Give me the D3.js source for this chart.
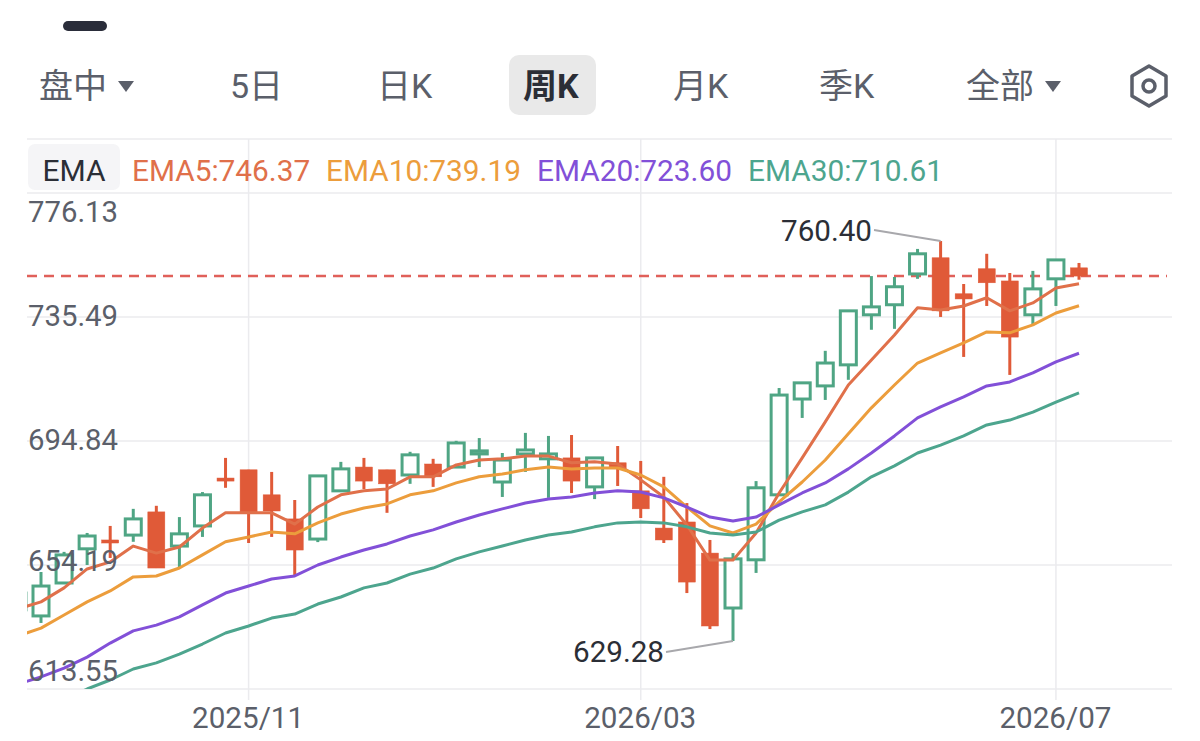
<!DOCTYPE html>
<html>
<head>
<meta charset="utf-8">
<style>
html,body{margin:0;padding:0;background:#fff;overflow:hidden}
text{font-family:Roboto,"Noto Sans CJK SC",sans-serif}
</style>
<script src="https://cdn.jsdelivr.net/npm/d3@7/dist/d3.min.js"></script>
</head>
<body>
<svg id="chart" width="1200" height="741"></svg>
<script>
// Weekly bars, oldest first; the first bar sits just off the left edge of the plot.
const openPrice = [639.5,637.5,648.3,659.5,662.4,664.0,671.6,660.4,667.0,682.7,685.4,677.2,669.3,662.7,678.5,686.3,685.4,683.7,687.3,686.3,690.6,681.4,690.6,689.0,689.3,679.8,687.7,678.5,666.3,668.3,658.1,640.1,655.9,677.2,708.6,712.9,719.8,736.2,739.5,749.6,754.9,743.1,751.3,747.3,736.2,748.0,751.6];
const closePrice = [645.0,647.3,657.5,663.7,661.4,669.3,653.2,664.4,677.2,681.7,671.6,671.9,659.1,683.4,685.7,681.7,680.8,690.3,683.1,694.2,691.6,688.6,691.9,690.6,681.7,689.3,686.0,672.6,662.4,648.6,634.2,656.2,679.5,709.9,713.9,720.4,737.5,738.8,745.4,756.2,737.5,741.4,746.7,728.9,744.7,754.2,748.9];
const highPrice = [647.7,651.9,658.5,664.7,667.0,672.6,673.6,669.9,678.1,689.3,685.4,684.7,675.5,683.7,688.0,689.3,685.4,691.3,689.0,694.9,695.8,690.9,697.5,696.5,696.8,689.3,693.2,688.3,683.1,674.5,662.4,658.1,681.7,712.2,713.9,724.4,737.5,748.9,748.6,757.8,760.40,746.3,756.2,749.9,750.6,754.2,753.2];
const lowPrice = [637.8,635.2,648.0,654.2,656.5,661.8,653.2,653.5,663.4,679.5,661.4,663.4,650.9,661.7,678.5,679.1,671.3,680.8,679.8,686.3,686.3,676.5,684.7,676.2,677.8,675.8,680.1,669.6,661.4,645.0,633.2,629.28,651.6,677.2,702.4,708.3,714.9,731.3,731.6,748.0,735.5,722.4,739.1,716.5,732.8,739.1,747.7];

// Moving averages at each weekly close.
const ema5 = [639.8,642.1,646.7,652.9,655.2,660.4,658.1,660.1,666.3,671.3,671.3,671.3,667.6,673.2,677.2,678.5,679.1,683.1,683.1,687.0,688.6,689.0,689.9,689.9,687.7,688.0,687.3,682.1,676.5,667.3,655.8,655.8,664.7,677.8,689.3,701.1,713.2,721.4,729.6,738.5,737.8,739.1,741.8,737.5,740.1,745.0,746.37];
const ema10 = [630.9,633.5,637.8,642.1,645.7,650.3,650.6,653.2,657.5,661.8,663.4,665.0,664.4,668.0,670.9,672.9,674.2,677.2,678.5,681.1,683.1,684.0,685.4,686.3,685.7,686.0,686.0,683.7,679.8,673.2,667.0,664.7,667.6,674.9,681.4,688.6,697.2,705.7,713.2,720.4,723.7,727.0,730.6,730.3,732.9,736.8,739.19];
const ema20 = [615.2,617.5,620.4,624.0,628.6,632.6,634.5,637.2,641.1,645.0,647.3,649.6,650.6,654.2,656.8,659.1,661.1,663.7,665.7,668.3,670.6,672.6,674.5,675.8,676.5,677.8,678.5,678.1,676.2,673.2,669.9,668.6,669.9,673.9,677.8,681.1,685.7,690.9,696.5,702.4,706.0,709.3,712.9,714.2,717.2,720.8,723.60];
const ema30 = [604.0,606.6,609.9,613.55,616.5,620.1,622.1,625.0,628.3,631.9,634.2,636.8,638.1,641.4,643.7,646.7,648.3,651.2,653.2,656.2,658.5,660.4,662.4,664.0,665.0,666.7,668.0,668.3,668.0,666.7,664.7,664.0,665.0,668.9,671.6,673.9,678.1,683.1,686.7,690.9,693.5,696.5,700.1,701.7,704.3,707.6,710.61];

const priceTicks = [776.13,735.49,694.84,654.19,613.55];
const lastPrice = 748.9;
const dateTicks = [new Date(Date.UTC(2025,10,3)), new Date(Date.UTC(2026,2,2)), new Date(Date.UTC(2026,6,6))];
const tabLabels = ["盘中","5日","日K","周K","月K","季K","全部"];
const tabStarts = [39,230,377,523,673,819,966];

const emaSeries = [
  {name:"EMA5", values:ema5, color:"#e0704a", labelX:132},
  {name:"EMA10", values:ema10, color:"#ec9d3c", labelX:326},
  {name:"EMA20", values:ema20, color:"#8250d8", labelX:537},
  {name:"EMA30", values:ema30, color:"#4da58e", labelX:748}
];

const weeks = d3.utcMonday.range(new Date(Date.UTC(2025,7,25)), new Date(Date.UTC(2026,6,14)));
const bars = weeks.map((date,i)=>({date,open:openPrice[i],close:closePrice[i],high:highPrice[i],low:lowPrice[i]}));

const plot = {left:27,right:1172,top:193,bottom:689};
const x = d3.scaleUtc().domain([weeks[1],weeks[weeks.length-1]]).range([41,1079]);
const y = d3.scaleLinear().domain([613.55,776.13]).range([plot.bottom,plot.top]);

const RED="#e05a38", GREEN="#4fa584", GRID="#ebebee", TEXT="#5b5f6a", DARK="#2b2e36";
const svg = d3.select("#chart");

svg.append("defs").append("clipPath").attr("id","plot-clip").append("rect")
  .attr("x",plot.left).attr("y",plot.top).attr("width",plot.right-plot.left).attr("height",plot.bottom-plot.top);

// Header: drag handle, period tabs, settings button
svg.append("rect").attr("x",63).attr("y",21).attr("width",44).attr("height",10).attr("rx",5).attr("fill","#2a2d3a");
svg.append("rect").attr("x",509).attr("y",55).attr("width",87).attr("height",60).attr("rx",10).attr("fill","#e9e9e9");
svg.append("g").selectAll("text").data(tabLabels).join("text")
  .attr("x",(d,i)=>tabStarts[i]).attr("y",98)
  .attr("font-size",34)
  .attr("font-weight",(d,i)=>i===3?700:400)
  .attr("fill",(d,i)=>i===3?DARK:TEXT)
  .text(d=>d);
svg.append("g").selectAll("path").data([126,1053]).join("path")
  .attr("transform",d=>`translate(${d},86)`)
  .attr("d","M-8,-5L8,-5L0,6Z").attr("fill",TEXT);
svg.append("path")
  .attr("d",d3.line()([[1149,66],[1166,76],[1166,96],[1149,106],[1132,96],[1132,76]])+"Z")
  .attr("fill","none").attr("stroke",TEXT).attr("stroke-width",3.5).attr("stroke-linejoin","round");
svg.append("circle").attr("cx",1149).attr("cy",86).attr("r",6).attr("fill","none").attr("stroke",TEXT).attr("stroke-width",3.5);

// Grid
const grid = svg.append("g").attr("stroke",GRID).attr("stroke-width",1.5);
grid.selectAll("line.h").data([139,...priceTicks.map(y)]).join("line").attr("class","h")
  .attr("x1",plot.left).attr("x2",plot.right).attr("y1",d=>d).attr("y2",d=>d);
grid.selectAll("line.v").data(dateTicks).join("line").attr("class","v")
  .attr("x1",d=>x(d)).attr("x2",d=>x(d)).attr("y1",139).attr("y2",700);

// Last-price marker
svg.append("line").attr("x1",plot.left).attr("x2",1167).attr("y1",y(lastPrice)).attr("y2",y(lastPrice))
  .attr("stroke","#e0605a").attr("stroke-width",2.5).attr("stroke-dasharray","10 7");

// Candles: rising weeks hollow green, falling weeks solid red
const plotArea = svg.append("g").attr("clip-path","url(#plot-clip)");
const candle = plotArea.selectAll("g.candle").data(bars).join("g").attr("class","candle");
candle.append("line")
  .attr("x1",d=>x(d.date)).attr("x2",d=>x(d.date))
  .attr("y1",d=>y(d.high)).attr("y2",d=>y(d.low))
  .attr("stroke",d=>d.close>=d.open?GREEN:RED).attr("stroke-width",3);
candle.append("rect")
  .attr("x",d=>x(d.date)-(d.close>=d.open?8:8.5))
  .attr("width",d=>d.close>=d.open?16:17)
  .attr("y",d=>y(Math.max(d.open,d.close)))
  .attr("height",d=>Math.abs(y(d.open)-y(d.close)))
  .attr("fill",d=>d.close>=d.open?"#fff":RED)
  .attr("stroke",d=>d.close>=d.open?GREEN:RED)
  .attr("stroke-width",d=>d.close>=d.open?3:0.5);

// Moving average lines
const emaLine = d3.line().x((d,i)=>x(weeks[i])).y(d=>y(d));
plotArea.selectAll("path.ema").data(emaSeries).join("path").attr("class","ema")
  .attr("d",d=>emaLine(d.values)).attr("fill","none")
  .attr("stroke",d=>d.color).attr("stroke-width",3).attr("stroke-linejoin","round");

// Indicator legend
svg.append("rect").attr("x",28).attr("y",144).attr("width",92).attr("height",46).attr("rx",7).attr("fill","#f5f5f7");
svg.append("text").attr("x",74).attr("y",181).attr("text-anchor","middle").attr("font-size",30).attr("fill",DARK).text("EMA");
svg.append("g").selectAll("text").data(emaSeries).join("text")
  .attr("x",d=>d.labelX).attr("y",181).attr("font-size",29.8).attr("fill",d=>d.color)
  .text(d=>`${d.name}:${d3.format(".2f")(d.values[d.values.length-1])}`);

// Price axis labels sit inside the plot; the outer two are nudged inward
const labelShift = new Map([[776.13,18],[654.19,-4],[613.55,-18]]);
const yAxis = d3.axisRight(y).tickValues(priceTicks).tickFormat(d3.format(".2f")).tickSize(0).tickPadding(0);
const yG = svg.append("g").attr("transform",`translate(28,0)`).call(yAxis);
yG.select(".domain").remove();
yG.selectAll("text").attr("font-size",29.3).attr("fill",TEXT)
  .attr("font-family",'Roboto,sans-serif')
  .attr("dy",d=>`${(labelShift.get(d)||-1)/29+0.34}em`);

// Date axis
const xAxis = d3.axisBottom(x).tickValues(dateTicks).tickFormat(d3.utcFormat("%Y/%m")).tickSize(0).tickPadding(0);
const xG = svg.append("g").attr("transform","translate(-1,704)").call(xAxis);
xG.select(".domain").remove();
xG.selectAll("text").attr("font-size",29.6).attr("fill",TEXT).attr("font-family",'Roboto,sans-serif').attr("dy","0.8em");

// High and low callouts
const callouts = [
  {week:weeks[40], price:d3.max(highPrice), textEnd:872, textY:231, lineFromX:874, lineFromY:230},
  {week:weeks[31], price:d3.min(lowPrice), textEnd:664, textY:652, lineFromX:666, lineFromY:652}
];
const call = svg.append("g");
call.selectAll("text").data(callouts).join("text")
  .attr("x",d=>d.textEnd).attr("y",d=>d.textY+10).attr("text-anchor","end")
  .attr("font-size",29.6).attr("fill",DARK).text(d=>d3.format(".2f")(d.price));
call.selectAll("line").data(callouts).join("line")
  .attr("x1",d=>d.lineFromX).attr("y1",d=>d.lineFromY)
  .attr("x2",d=>x(d.week)).attr("y2",d=>y(d.price))
  .attr("stroke","#a8a8ac").attr("stroke-width",1.8);
</script>
</body>
</html>
